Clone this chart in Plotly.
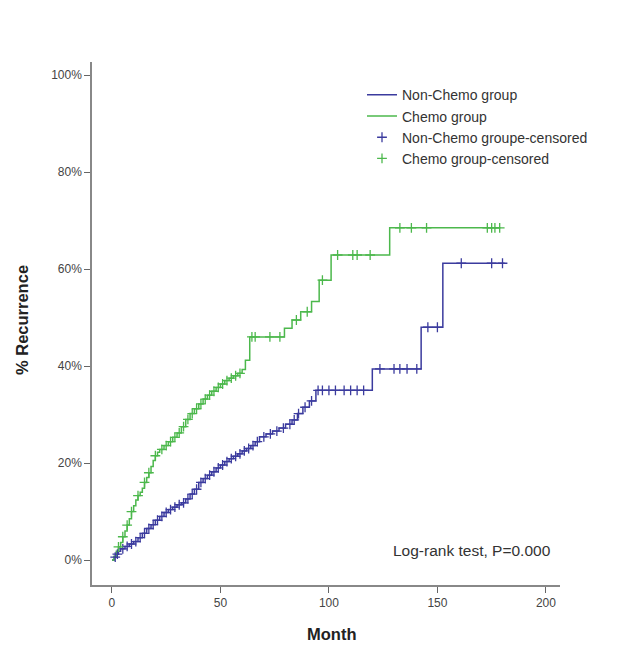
import plotly.graph_objects as go
import numpy as np

# Chemo group: step times (months) and cumulative recurrence (%)
chemo_t = [0, 1, 2, 3, 4, 5, 6, 7, 8, 9, 10, 11, 12, 13, 14, 15, 16, 17, 18, 19, 20, 21, 22, 24, 26, 28, 30, 32,
           34, 36, 38, 40, 42, 44, 46, 48, 50, 52, 54, 56, 58, 60, 61.5, 63.5, 79.5, 83, 87, 92, 95.5, 101, 128, 179]
chemo_v = [0, 0.8, 1.8, 2.7, 3.6, 4.8, 6, 7.2, 8.5, 10, 11.2, 12.4, 13.3, 14, 14.8, 16, 17, 18, 19.3, 20.5, 21.5,
           22.2, 22.8, 23.6, 24.4, 25.3, 26.2, 27.5, 29, 30.2, 31.2, 32.2, 33.2, 34, 34.8, 35.6, 36.3, 37, 37.5, 38,
           38.5, 39.3, 41.2, 46, 47.8, 49.5, 51.2, 53.3, 57.7, 62.9, 68.5, 68.5]

# Non-Chemo group
nonchemo_t = [0, 1, 2, 3, 4, 6, 8, 10, 12, 14, 16, 18, 20, 22, 24, 26, 28, 30, 32, 34, 36, 38, 40, 42, 44, 46, 48,
              50, 52, 54, 56, 58, 60, 62, 64, 66, 68, 71, 74, 77, 80, 83, 85.5, 88, 91, 94, 120, 142.5, 152.5, 181]
nonchemo_v = [0, 0.6, 1.2, 1.8, 2.3, 2.8, 3.3, 3.8, 4.6, 5.5, 6.5, 7.3, 8.2, 9, 9.8, 10.4, 10.9, 11.4, 11.8, 12.6,
              13.6, 14.6, 16, 16.8, 17.5, 18.2, 19, 19.6, 20.3, 20.9, 21.4, 21.9, 22.5, 23, 23.6, 24.4, 25.4, 26,
              26.6, 27.2, 28, 28.9, 30.2, 31.5, 32.8, 35, 39.4, 48, 61.2, 61.2]

# Censoring times (months)
chemo_cens = [3, 5, 7, 9, 12, 15, 17, 20, 23, 25, 27, 29, 31, 33, 35, 37, 39, 41, 43, 45, 47, 49, 51, 53, 55, 57,
              59, 64.5, 66, 72.8, 77.4, 85, 90, 97, 104, 111, 113, 119, 132.7, 138, 145, 173, 175, 176.5, 178.7]
nonchemo_cens = [1.5, 2.5, 5, 7, 9, 11, 13, 15, 17, 19, 21, 23, 25, 27, 29, 31, 33, 35, 37, 39, 41, 43, 45, 47, 49,
                 51, 53, 55, 57, 59, 61, 63, 65, 67, 70, 73, 76, 79, 82, 84, 86, 89, 92, 95, 97, 100, 103, 107,
                 110, 113, 116, 123.5, 130, 132.7, 136, 140.5, 145.6, 150, 161, 175, 180]

x_ticks = [0, 50, 100, 150, 200]
y_ticks = [0, 20, 40, 60, 80, 100]
y_ticklabels = ["0%", "20%", "40%", "60%", "80%", "100%"]

BLUE = "#3b3b9e"
GREEN = "#4cb84c"

W, H = 629, 645
ML, MR, MT, MB = 92, 69, 62, 60


def step_at(ts, vs, q):
    idx = np.searchsorted(np.array(ts), np.array(q), side="right") - 1
    return [vs[i] for i in idx]


fig = go.Figure()
fig.add_trace(go.Scatter(x=nonchemo_t, y=nonchemo_v, mode="lines", line=dict(shape="hv", color=BLUE, width=1.5),
                         name="Non-Chemo group"))
fig.add_trace(go.Scatter(x=chemo_t, y=chemo_v, mode="lines", line=dict(shape="hv", color=GREEN, width=1.5),
                         name="Chemo group"))
fig.add_trace(go.Scatter(x=nonchemo_cens, y=step_at(nonchemo_t, nonchemo_v, nonchemo_cens), mode="markers",
                         marker=dict(symbol="cross-thin-open", size=7, color=BLUE, line=dict(color=BLUE, width=1.3)),
                         name="Non-Chemo groupe-censored"))
fig.add_trace(go.Scatter(x=chemo_cens, y=step_at(chemo_t, chemo_v, chemo_cens), mode="markers",
                         marker=dict(symbol="cross-thin-open", size=7, color=GREEN, line=dict(color=GREEN, width=1.3)),
                         name="Chemo group-censored"))

fig.add_annotation(xref="x", yref="y", x=(553 - 112) / 2.17, y=(560 - 550) / 4.85, xanchor="right",
                   yanchor="middle", text="Log-rank test, P=0.000", showarrow=False,
                   font=dict(size=15.5, color="#333333"))

# axis titles placed in paper coordinates
pw, ph = W - ML - MR, H - MT - MB
fig.add_annotation(xref="paper", yref="paper", x=(331 - ML) / pw, y=-(634 - (H - MB)) / ph,
                   text="<b>Month</b>", showarrow=False, xanchor="center", yanchor="middle",
                   font=dict(size=16.5, color="#222222"))
fig.add_annotation(xref="paper", yref="paper", x=-(ML - 22) / pw, y=1 - (320 - MT) / ph,
                   text="<b>% Recurrence</b>", showarrow=False, xanchor="center", yanchor="middle",
                   textangle=-90, font=dict(size=16.5, color="#222222"))

axis_common = dict(showgrid=False, zeroline=False, showline=True, linecolor="#888888", linewidth=1.5,
                   ticks="outside", ticklen=6, tickcolor="#666666", tickfont=dict(size=12, color="#444444"),
                   automargin=False)
fig.update_xaxes(range=[-9.2, 206.5], tickvals=x_ticks, **axis_common)
fig.update_yaxes(range=[-5.15, 102.7], tickvals=y_ticks, ticktext=y_ticklabels, **axis_common)

fig.update_layout(
    width=W, height=H,
    margin=dict(l=ML, r=MR, t=MT, b=MB, autoexpand=False),
    paper_bgcolor="white", plot_bgcolor="white",
    font=dict(family="Arial, Liberation Sans, sans-serif", color="#333333"),
    showlegend=True,
    legend=dict(x=(362 - ML) / pw, y=0.967, xanchor="left", yanchor="top", font=dict(size=14, color="#333333"),
                bgcolor="rgba(0,0,0,0)", tracegroupgap=0),
)

fig.write_html("out.html")
